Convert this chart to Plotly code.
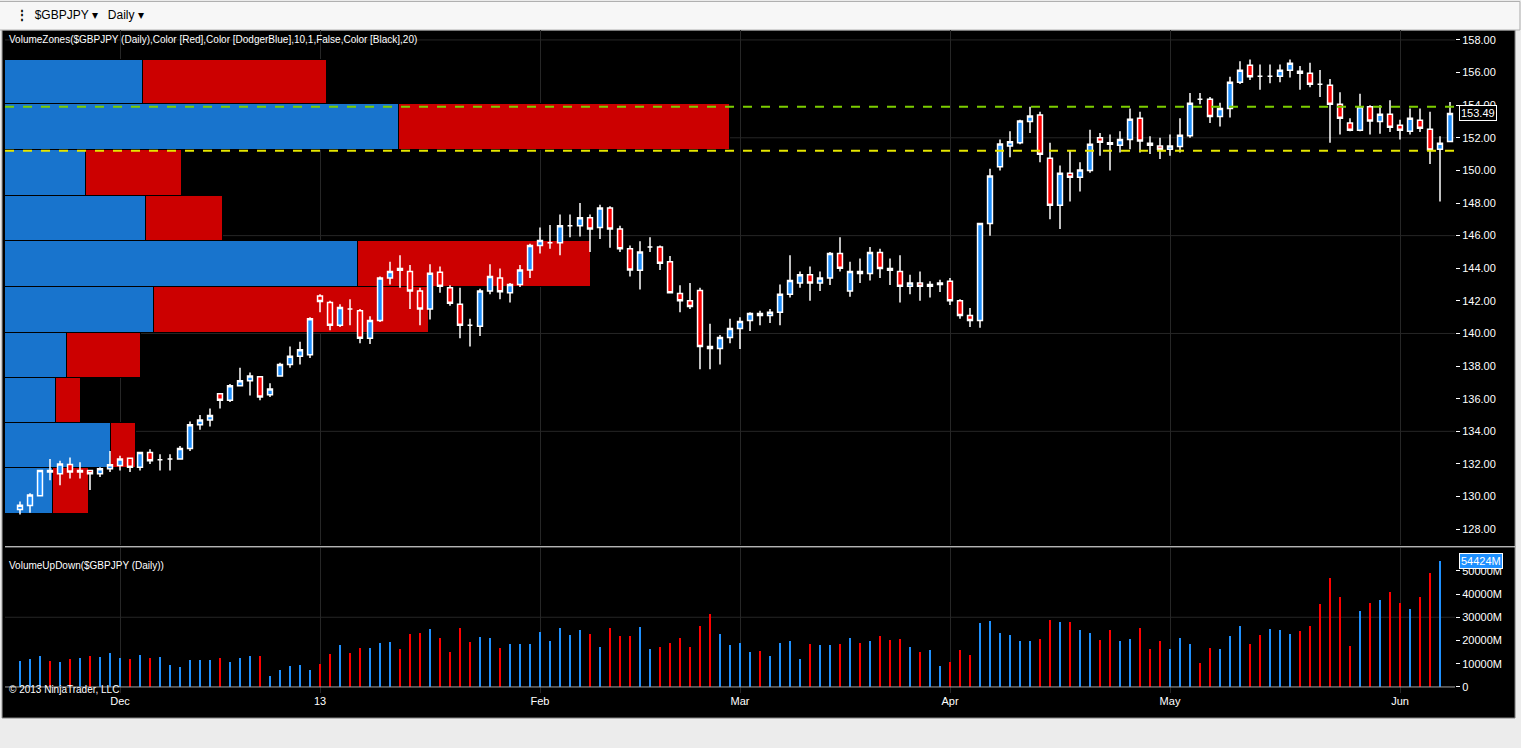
import pandas as pd
import plotly.graph_objects as go

# ---------------- data ----------------
opens = [129.2,129.45,130.05,131.6,131.4,131.96,131.5,131.6,131.4,131.7,131.9,132.35,131.8,132.7,132.25,132.3,132.3,132.95,134.4,134.7,
         136.3,135.9,136.8,137.1,137.35,136.25,137.4,138.1,138.6,138.7,142.3,141.9,140.5,141.5,141.4,139.7,140.8,143.4,143.99,143.8,
         142.6,141.5,143.75,142.8,141.8,140.5,140.45,142.6,143.4,142.5,143.0,143.9,145.4,145.56,145.56,146.6,146.6,147.1,146.5,147.7,
         146.4,145.2,143.87,145.3,145.3,144.4,142.45,142.0,142.64,139.2,139.08,139.76,140.3,140.8,141.23,141.1,141.3,142.4,143.1,143.6,
         143.1,143.4,144.9,142.6,143.8,143.68,144.97,143.99,143.8,142.9,143.1,142.9,143.0,143.2,142.0,141.1,140.8,146.75,150.23,151.5,
         151.7,153.0,153.4,150.74,147.86,149.82,149.58,150.0,152.0,151.7,151.55,151.9,153.2,151.66,151.5,151.3,151.46,152.13,154.36,154.36,
         153.3,153.8,155.4,156.45,155.77,155.77,155.77,156.14,156.08,155.96,155.28,155.22,154.06,152.9,152.46,153.9,153.0,153.44,152.77,152.4,
         153.07,152.52,151.3,151.78]
closes = [129.47,130.1,131.6,131.5,132.0,131.5,131.6,131.4,131.7,131.95,132.3,131.8,132.7,132.2,132.25,132.3,132.95,134.4,134.7,134.97,
          135.9,136.8,137.1,137.4,136.1,136.6,138.1,138.6,139.0,140.9,141.96,140.5,141.6,141.5,139.7,140.8,143.4,143.8,143.87,142.6,
          141.5,143.7,142.9,141.85,140.5,140.5,142.6,143.5,142.56,143.0,143.9,145.4,145.7,145.56,146.6,146.6,147.1,146.4,147.7,146.4,
          145.2,143.9,145.0,145.3,144.3,142.5,142.0,141.66,139.2,139.08,139.76,140.3,140.74,141.23,141.1,141.3,142.4,143.25,143.6,143.1,
          143.4,144.9,144.0,143.8,143.68,144.97,143.99,143.87,142.9,143.1,142.9,143.0,143.1,142.0,141.1,140.8,146.75,149.66,151.62,151.75,
          153.03,153.34,150.99,147.86,149.82,149.58,150.03,151.6,151.72,151.6,151.9,153.14,151.8,151.54,151.3,151.5,152.15,154.12,154.36,153.3,
          153.8,155.4,156.14,155.75,155.77,155.77,156.14,156.57,155.96,155.28,155.28,154.06,153.2,152.46,153.9,153.03,153.44,152.65,152.46,153.2,
          152.58,151.25,151.66,153.49]
highs = [129.7,130.2,131.6,132.3,132.2,132.4,132.1,131.6,131.8,132.8,132.5,132.35,132.7,132.9,132.6,132.6,133.1,134.6,135.0,135.4,
         136.3,136.9,137.9,137.6,137.35,136.95,138.2,139.2,139.5,141.0,142.4,142.0,141.8,142.1,141.5,141.05,143.5,144.4,144.8,144.2,
         142.8,144.25,144.1,142.95,142.8,140.9,142.75,144.25,143.98,143.1,144.2,145.5,146.5,146.65,147.3,147.3,148.0,147.3,147.9,147.8,
         146.6,145.4,145.65,145.9,145.4,144.75,142.95,143.1,142.8,140.6,139.9,140.9,141.0,141.3,141.4,141.5,143.0,144.8,143.8,144.1,
         143.8,145.0,145.9,144.4,144.6,145.3,145.2,144.6,144.8,143.6,143.8,143.2,143.3,143.4,142.1,141.56,146.75,150.1,151.9,152.4,
         153.1,153.9,153.6,151.7,150.3,151.2,150.5,152.5,152.3,152.2,152.4,153.8,153.6,152.1,152.0,152.2,153.2,154.75,154.75,154.5,
         154.15,155.75,156.7,156.8,156.5,156.5,156.5,156.8,156.4,156.6,156.15,155.6,154.8,153.2,154.7,154.0,154.0,154.3,153.1,153.8,
         153.8,153.6,152.1,154.2]
lows = [128.9,129.0,130.0,131.0,130.7,131.1,131.1,130.4,131.2,131.5,131.6,131.5,131.6,132.0,131.6,131.6,132.3,132.8,134.1,134.3,
        135.4,135.8,136.75,136.2,135.9,136.1,137.4,137.9,138.1,138.5,141.3,140.2,140.4,140.5,139.4,139.35,140.7,143.0,142.8,141.5,
        140.5,140.85,142.5,141.7,139.7,139.2,139.85,142.4,142.1,141.9,142.85,143.4,144.9,145.2,144.8,145.9,145.95,145.0,145.8,145.25,
        145.0,143.5,142.7,145.0,143.9,142.5,141.3,141.5,137.8,137.8,138.1,139.4,139.05,140.15,140.5,140.65,140.5,142.2,142.8,142.0,
        142.6,142.97,143.8,142.25,143.1,143.25,143.4,142.97,141.9,142.4,142.0,142.2,142.55,141.75,140.9,140.4,140.35,146.0,150.0,150.8,
        151.6,152.3,150.5,147.0,146.4,148.1,148.7,149.85,150.9,150.0,151.1,151.3,151.1,151.0,150.7,150.9,151.1,152.0,154.05,152.9,
        152.7,153.25,155.3,155.55,154.95,155.35,155.4,155.7,154.95,155.1,154.5,151.7,152.2,152.4,152.4,152.2,152.25,152.35,151.9,152.2,
        152.35,150.4,148.1,151.8]
volumes_k = [11.3,12.1,13.4,11.3,10.8,12.1,12.6,13.4,13.0,14.7,12.6,12.1,13.9,12.6,13.0,9.5,8.7,11.7,11.7,11.7,
             12.6,10.8,12.6,13.4,13.4,4.8,7.4,9.1,9.5,7.4,10.0,14.3,18.2,14.7,16.9,16.9,19.1,19.5,16.5,23.0,
             23.4,25.1,21.2,15.2,25.6,19.5,21.7,21.2,16.9,18.6,18.6,18.6,23.8,19.9,25.6,22.5,24.7,23.0,17.3,25.6,
             22.1,22.1,26.0,16.5,17.3,19.1,21.2,17.3,26.4,31.6,23.0,18.2,19.1,15.2,15.6,13.4,19.1,19.9,12.1,18.6,
             18.2,18.2,18.6,21.2,19.1,19.9,22.1,20.4,20.8,17.3,15.2,16.0,9.1,10.8,16.0,13.9,27.7,28.6,23.4,22.5,
             19.9,19.9,20.8,29.0,28.2,28.2,24.7,23.4,20.4,24.7,19.9,20.8,25.6,16.5,19.9,16.5,21.2,18.6,10.4,16.9,
             16.5,22.1,26.4,18.6,22.5,25.1,24.7,23.0,24.3,26.4,36.0,46.8,39.0,17.8,32.9,36.4,37.7,40.8,36.4,33.8,
             39.0,49.0,54.424]
volumes = [v * 1000 for v in volumes_k]  # in M
# U = up volume (blue), D = down volume (red)
vol_dir = ("UUUDUDUDUUUDUDUUUUUUDUUUDUUUUUDDUDDUUUDDDUDDDDUUDUUUUUUUUDUDDDUUDDDDDDUU"
           "UUDUUUUDUUDUDUDDDUDUUDDDUUUUUUDDUDUUDDUUDDDUUUDDUUUDDUUUDDDDDDUDUDDUDDU")

holidays = ["2012-12-25", "2013-01-01"]
bdays = [d for d in pd.bdate_range("2012-11-19", periods=150).strftime("%Y-%m-%d") if d not in holidays]
dates = bdays[:len(closes)]

month_ticks = ["2012-12-03", "2013-01-02", "2013-02-01", "2013-03-01", "2013-04-01", "2013-05-01", "2013-06-03"]
month_labels = ["Dec", "13", "Feb", "Mar", "Apr", "May", "Jun"]

zone_bounds = [128.92, 131.74, 134.50, 137.26, 140.02, 142.85, 145.67, 148.43, 151.25, 154.07, 156.77]
zone_up = [48, 106, 51, 62, 149, 353, 141, 81, 394, 138]
zone_down = [36, 25, 25, 74, 275, 233, 77, 96, 331, 184]

price_ticks = [128, 130, 132, 134, 136, 138, 140, 142, 144, 146, 148, 150, 152, 154, 156, 158]
price_grid = [134, 140, 146, 152, 158]
vol_ticks = [0, 10000, 20000, 30000, 40000, 50000]
level_lines = [153.9, 151.2]
level_colors = ["#7ccd00", "#e6e600"]

# ---------------- figure ----------------
fig = go.Figure()
zone_mid = [(a + b) / 2 for a, b in zip(zone_bounds[:-1], zone_bounds[1:])]
zone_h = [b - a for a, b in zip(zone_bounds[:-1], zone_bounds[1:])]
fig.add_trace(go.Bar(x=zone_up, y=zone_mid, width=zone_h, orientation="h", marker=dict(color="#1874cd", line=dict(color="black", width=1.5)),
                     xaxis="x", yaxis="y", hoverinfo="skip", showlegend=False))
fig.add_trace(go.Bar(x=zone_down, y=zone_mid, width=zone_h, orientation="h", marker=dict(color="#cc0000", line=dict(color="black", width=1.5)),
                     xaxis="x", yaxis="y", hoverinfo="skip", showlegend=False))

fig.add_trace(go.Candlestick(x=dates, open=opens, high=highs, low=lows, close=closes, xaxis="x3", yaxis="y",
                             increasing=dict(fillcolor="#1e90ff", line=dict(color="white", width=1.5)),
                             decreasing=dict(fillcolor="#ff0000", line=dict(color="white", width=1.5)),
                             whiskerwidth=0, showlegend=False))

vol_colors = ["#1e90ff" if c == "U" else "#ff0000" for c in vol_dir]
fig.add_trace(go.Bar(x=dates[:len(volumes)], y=volumes, marker=dict(color=vol_colors, line=dict(width=0)), width=0.25,
                     xaxis="x2", yaxis="y2", showlegend=False))

price_dom = [0.223, 1]
vol_dom = [0, 0.219]
xr = [-1.5, len(closes) - 0.5]

fig.update_layout(
    width=1521, height=748,
    margin=dict(l=5, r=66, t=30, b=55),
    paper_bgcolor="#ececec", plot_bgcolor="black",
    barmode="stack", bargap=0,
    font=dict(family="Liberation Sans, Arial", size=11, color="white"),
    xaxis=dict(domain=[0, 1], range=[0, 1450], visible=False, anchor="y"),
    xaxis3=dict(domain=[0, 1], overlaying="x", type="category", range=xr, anchor="y",
                tickvals=month_ticks, showticklabels=False, showgrid=True, gridcolor="#262626",
                rangeslider=dict(visible=False), ticks=""),
    xaxis2=dict(domain=[0, 1], type="category", range=xr, anchor="y2", categoryorder="array", categoryarray=dates,
                tickvals=month_ticks, ticktext=month_labels, showgrid=True, gridcolor="#262626",
                tickfont=dict(color="white", size=11), ticks=""),
    yaxis=dict(domain=price_dom, range=[127.02, 158.61], side="right", anchor="x", tickvals=price_ticks,
               ticktext=["%.2f" % t for t in price_ticks], showgrid=False, zeroline=False,
               ticks="outside", ticklen=4, tickcolor="white", tickfont=dict(color="white", size=11)),
    yaxis2=dict(domain=vol_dom, range=[-2600, 59900], side="right", anchor="x2", tickvals=vol_ticks,
                ticktext=["0" if t == 0 else "%dM" % t for t in vol_ticks], showgrid=False, zeroline=False,
                ticks="outside", ticklen=4, tickcolor="white", tickfont=dict(color="white", size=11)),
)

shapes = [
    dict(type="rect", xref="paper", yref="paper", x0=-0.002, x1=1.0414, y0=-0.0377, y1=1.0, fillcolor="black",
         line=dict(color="#808080", width=1), layer="below"),
    dict(type="line", xref="paper", yref="paper", x0=0, x1=1.0414, y0=0.2205, y1=0.2205, line=dict(color="white", width=1)),
    dict(type="line", xref="x2 domain", yref="y2", x0=0, x1=1, y0=0, y1=0, line=dict(color="#a0a0a0", width=1)),
    dict(type="line", xref="x2 domain", yref="y2", x0=0, x1=1, y0=30000, y1=30000, line=dict(color="#262626", width=1), layer="below"),
    dict(type="rect", xref="paper", yref="paper", x0=-0.004, x1=1.0448, y0=1.0, y1=1.043, fillcolor="#f7f7f7",
         line=dict(color="#b0b0b0", width=1), layer="below"),
]
for g in price_grid:
    shapes.append(dict(type="line", xref="x domain", yref="y", x0=0, x1=1, y0=g, y1=g, line=dict(color="#262626", width=1), layer="below"))
for lv, lc in zip(level_lines, level_colors):
    shapes.append(dict(type="line", xref="x domain", yref="y", x0=0, x1=1, y0=lv, y1=lv, line=dict(color=lc, width=2, dash="dash")))
fig.update_layout(shapes=shapes)

ann = [
    dict(text="VolumeZones($GBPJPY (Daily),Color [Red],Color [DodgerBlue],10,1,False,Color [Black],20)", xref="paper", yref="paper",
         x=0.0015, y=0.986, xanchor="left", yanchor="middle", showarrow=False, font=dict(size=10, color="white")),
    dict(text="VolumeUpDown($GBPJPY (Daily))", xref="paper", yref="paper", x=0.0015, y=0.193, xanchor="left",
         yanchor="middle", showarrow=False, font=dict(size=10, color="white")),
    dict(text="© 2013 NinjaTrader, LLC", xref="paper", yref="paper", x=0.0015, y=0.006, xanchor="left",
         yanchor="middle", showarrow=False, font=dict(size=10, color="white")),
    dict(text="%.2f" % closes[-1], xref="paper", yref="y", x=1.003, y=closes[-1], xanchor="left", yanchor="middle",
         showarrow=False, bgcolor="black", bordercolor="white", borderwidth=1, font=dict(size=11, color="white")),
    dict(text="%dM" % round(volumes[-1]), xref="paper", yref="y2", x=1.003, y=volumes[-1], xanchor="left", yanchor="middle",
         showarrow=False, bgcolor="#1e90ff", bordercolor="white", borderwidth=1, font=dict(size=11, color="white")),
    dict(text="<b>⋮</b>  $GBPJPY ▾   Daily ▾", xref="paper", yref="paper", x=0.006, y=1.022, xanchor="left", yanchor="middle",
         showarrow=False, font=dict(size=12, color="black")),
]
fig.update_layout(annotations=ann)

fig.write_html("out.html", config={"displayModeBar": False},
               post_script="document.body.style.margin='0';document.body.style.overflow='hidden';")
